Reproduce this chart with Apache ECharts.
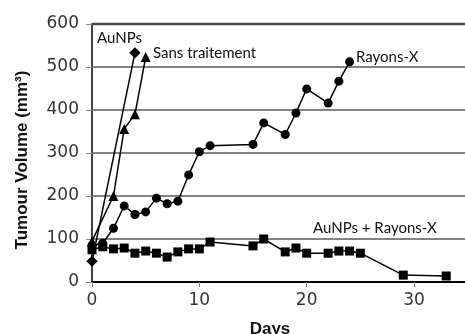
<!DOCTYPE html>
<html>
<head>
<meta charset="utf-8">
<script src="https://cdn.jsdelivr.net/npm/echarts@6/dist/echarts.min.js"></script>
<style>
  html, body { margin: 0; padding: 0; background: #fff; }
  #chart { width: 465px; height: 334px; }
</style>
</head>
<body>
<div id="chart"></div>
<script>
// Tumour volume (mm³) against days, four treatment groups
const yTicks = [0, 100, 200, 300, 400, 500, 600];
const xTicks = [0, 10, 20, 30];
const xMax = 34.75;

const auNPsDays = [0, 4];
const auNPsVol = [48, 533];

const sansDays = [0, 2, 3, 4, 5];
const sansVol = [95, 200, 356, 390, 523];

const rayonsDays = [0, 1, 2, 3, 4, 5, 6, 7, 8, 9, 10, 11, 15, 16, 18, 19, 20, 22, 23, 24];
const rayonsVol = [85, 90, 125, 177, 157, 163, 195, 182, 188, 249, 303, 317, 320, 370, 343, 393, 449, 416, 467, 512];

const comboDays = [0, 1, 2, 3, 4, 5, 6, 7, 8, 9, 10, 11, 15, 16, 18, 19, 20, 22, 23, 24, 25, 29, 33];
const comboVol = [75, 82, 77, 79, 67, 72, 67, 58, 70, 77, 77, 93, 84, 100, 70, 79, 67, 67, 72, 72, 67, 16, 14];

const seriesNames = ['AuNPs', 'Sans traitement', 'Rayons-X', 'AuNPs + Rayons-X'];

function pairs(xs, ys) { return xs.map((x, i) => [x, ys[i]]); }

const chart = echarts.init(document.getElementById('chart'));

const annFont = 'Lato, "Open Sans", sans-serif';
function note(text, x, y) {
  return {
    type: 'text', x: x, y: y,
    style: { text: text, fill: '#111', font: '15px ' + annFont, verticalAlign: 'middle', align: 'left' }
  };
}

function blackLine() { return { color: '#000', width: 1.5 }; }
function blackItem() { return { color: '#000' }; }

// horizontal rules at each y tick across the full day range; the top rule is heavier
const ruleSeries = yTicks.slice(1).map(v => ({
  type: 'line', silent: true, z: 2, symbol: 'none', clip: false,
  data: [[0, v], [xMax, v]],
  lineStyle: v === yTicks[yTicks.length - 1]
    ? { color: '#444', width: 2.5 }
    : { color: '#7a7a7a', width: 1.5 }
}));

chart.setOption({
  animation: false,
  grid: { left: 92, top: 24, right: 0, bottom: 52 },
  xAxis: {
    type: 'value', min: 0, max: xMax, interval: 10,
    axisLine: { lineStyle: { color: '#000', width: 2 } },
    axisTick: { show: true, length: 5, lineStyle: { color: '#888' } },
    axisLabel: {
      margin: 10, color: '#333', fontSize: 17, fontFamily: 'DejaVu Sans',
      showMaxLabel: false,
      formatter: v => (xTicks.includes(v) ? String(v) : '')
    },
    splitLine: { show: false }
  },
  yAxis: {
    type: 'value', min: yTicks[0], max: yTicks[yTicks.length - 1], interval: 100,
    axisLine: { show: true, lineStyle: { color: '#000', width: 1.5 } },
    axisTick: { show: true, length: 6, lineStyle: { color: '#888' } },
    axisLabel: { margin: 13, color: '#333', fontSize: 17, fontFamily: 'DejaVu Sans' },
    splitLine: { show: true, lineStyle: { color: '#7a7a7a', width: 1.5 } }
  },
  graphic: [
    note('AuNPs', 97, 38),
    note('Sans traitement', 153, 53),
    note('Rayons-X', 356, 57),
    note('AuNPs + Rayons-X', 313, 228),
    {
      type: 'text', x: 22, y: 160, rotation: Math.PI / 2,
      style: {
        text: 'Tumour Volume (mm³)',
        align: 'center', verticalAlign: 'middle',
        font: 'bold 17px "Liberation Sans", Arial, sans-serif', fill: '#111'
      }
    },
    {
      type: 'text', x: 270, y: 329,
      style: {
        text: 'Days', align: 'center', verticalAlign: 'middle',
        font: 'bold 17px "Liberation Sans", Arial, sans-serif', fill: '#111'
      }
    }
  ],
  series: ruleSeries.concat([
    {
      name: seriesNames[0], type: 'line', data: pairs(auNPsDays, auNPsVol),
      symbol: 'rect', symbolRotate: 45, symbolSize: 8, z: 4,
      lineStyle: blackLine(), itemStyle: blackItem()
    },
    {
      name: seriesNames[1], type: 'line', data: pairs(sansDays, sansVol),
      symbol: 'triangle', symbolSize: 10, z: 3,
      lineStyle: blackLine(), itemStyle: blackItem()
    },
    {
      name: seriesNames[2], type: 'line', data: pairs(rayonsDays, rayonsVol),
      symbol: 'circle', symbolSize: 9, z: 3,
      lineStyle: blackLine(), itemStyle: blackItem()
    },
    {
      name: seriesNames[3], type: 'line', data: pairs(comboDays, comboVol),
      symbol: 'rect', symbolSize: 9, z: 3,
      lineStyle: blackLine(), itemStyle: blackItem()
    }
  ])
});
</script>
</body>
</html>
